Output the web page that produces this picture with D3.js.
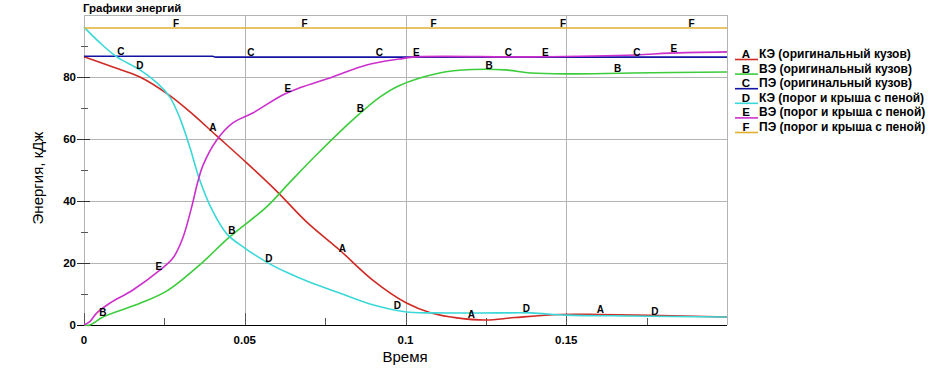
<!DOCTYPE html>
<html>
<head>
<meta charset="utf-8">
<script src="https://cdn.jsdelivr.net/npm/d3@7"></script>
<style>
  body { margin: 0; background: #fff; }
  svg { display: block; font-family: "Liberation Sans", Arial, sans-serif; }
</style>
</head>
<body>
<div id="chart"></div>
<script>
// energy curves, time in s, energy in kJ
var aT = [0, 0.009, 0.0174, 0.0267, 0.0329, 0.0413, 0.0506, 0.0599, 0.0693, 0.0795, 0.0898, 0.1003, 0.108, 0.116, 0.125, 0.134, 0.148, 0.16, 0.176, 0.2];
var aE = [86.5, 83.2, 80.0, 74.0, 68.8, 61.0, 52.3, 43.2, 33.2, 24.2, 14.5, 7.1, 3.9, 2.3, 1.6, 2.4, 3.4, 3.4, 3.1, 2.6];

var bT = [0, 0.0019, 0.0059, 0.0174, 0.0258, 0.036, 0.0453, 0.0568, 0.064, 0.0724, 0.0835, 0.092, 0.098, 0.1106, 0.1208, 0.131, 0.139, 0.15, 0.1705, 0.2];
var bE = [0, 0, 2.6, 7.0, 11.0, 19.4, 28.4, 38.1, 46.0, 55.0, 66.1, 73.5, 77.2, 81.3, 82.4, 82.3, 81.3, 81.0, 81.3, 81.6];

var cT = [0, 0.04, 0.041, 0.2];
var cE = [86.7, 86.7, 86.4, 86.4];

var dT = [0, 0.005, 0.0102, 0.0174, 0.0227, 0.0267, 0.0298, 0.0329, 0.036, 0.04, 0.0444, 0.05, 0.0568, 0.063, 0.0693, 0.0795, 0.0898, 0.1003, 0.108, 0.129, 0.139, 0.15, 0.17, 0.2];
var dE = [96.1, 91.0, 86.5, 82.3, 78.1, 73.5, 66.8, 57.4, 46.8, 36.8, 29.4, 24.8, 20.3, 17.0, 14.2, 10.3, 6.5, 4.2, 3.9, 3.9, 3.9, 3.2, 2.9, 2.6];

var eT = [0, 0.0019, 0.004, 0.0081, 0.0152, 0.0236, 0.0276, 0.0307, 0.0335, 0.0354, 0.037, 0.0413, 0.0463, 0.0525, 0.0618, 0.0671, 0.0773, 0.0879, 0.0981, 0.1034, 0.139, 0.1717, 0.182, 0.2];
var eE = [0, 1.2, 3.9, 7.1, 11.3, 17.7, 21.5, 28.0, 38.1, 46.2, 51.5, 59.7, 65.2, 68.4, 74.2, 76.5, 80.0, 83.9, 85.8, 86.5, 86.5, 87.1, 87.7, 88.1];

var fT = [0, 0.2];
var fE = [95.8, 95.8];

// where the curve letters sit (time)
var aMarks = [0.0401, 0.0804, 0.1205, 0.1606];
var bMarks = [0.0059, 0.046, 0.086, 0.126, 0.166];
var cMarks = [0.0115, 0.0519, 0.0919, 0.132, 0.172];
var dMarks = [0.0174, 0.0575, 0.0975, 0.1376, 0.1776];
var eMarks = [0.0233, 0.0634, 0.1034, 0.1435, 0.1835];
var fMarks = [0.0286, 0.0686, 0.1087, 0.149, 0.189];

var letters = ["A", "B", "C", "D", "E", "F"];
var legendNames = ["КЭ (оригинальный кузов)", "ВЭ (оригинальный кузов)", "ПЭ (оригинальный кузов)",
                   "КЭ (порог и крыша с пеной)", "ВЭ (порог и крыша с пеной)", "ПЭ (порог и крыша с пеной)"];
var colors = ["#d02a24", "#3ccc3c", "#1414a4", "#3ad8d8", "#cc30cc", "#e0b030"];

var xTicks = [0, 0.05, 0.1, 0.15];
var xMinor = [0.025, 0.075, 0.125, 0.175];
var yTicks = [0, 20, 40, 60, 80];
var yMinor = [10, 30, 50, 70, 90];

var series = [
  {t: aT, e: aE, marks: aMarks, smooth: true},
  {t: bT, e: bE, marks: bMarks, smooth: true},
  {t: cT, e: cE, marks: cMarks, smooth: false},
  {t: dT, e: dE, marks: dMarks, smooth: true},
  {t: eT, e: eE, marks: eMarks, smooth: true},
  {t: fT, e: fE, marks: fMarks, smooth: false}
];

var W = 938, H = 372;
var svg = d3.select("#chart").append("svg").attr("width", W).attr("height", H);

var x = d3.scaleLinear().domain([0, 0.2]).range([84, 727]);
var y = d3.scaleLinear().domain([0, 100]).range([325, 15]);

// grid + frame
var grid = svg.append("g");
grid.selectAll(".hg").data(yTicks.slice(1).concat([100]))
  .enter().append("line")
  .attr("x1", x(0)).attr("x2", x(0.2))
  .attr("y1", d => y(d) + 0.5).attr("y2", d => y(d) + 0.5)
  .attr("stroke", "#b4b4b4").attr("stroke-width", 1);
grid.selectAll(".vg").data(xTicks.concat([0.2]))
  .enter().append("line")
  .attr("x1", d => Math.round(x(d)) + 0.5).attr("x2", d => Math.round(x(d)) + 0.5)
  .attr("y1", y(100)).attr("y2", y(0))
  .attr("stroke", "#b4b4b4").attr("stroke-width", 1);

// y axis ticks
var ax = svg.append("g");
ax.selectAll(".yt").data(yTicks).enter().append("line")
  .attr("x1", 77).attr("x2", 90)
  .attr("y1", d => y(d) + 0.5).attr("y2", d => y(d) + 0.5)
  .attr("stroke", "#333");
ax.selectAll(".ym").data(yMinor).enter().append("line")
  .attr("x1", 81).attr("x2", 88)
  .attr("y1", d => y(d) + 0.5).attr("y2", d => y(d) + 0.5)
  .attr("stroke", "#555");
ax.selectAll(".yl").data(yTicks).enter().append("text")
  .attr("x", 76).attr("y", d => y(d) + 4)
  .attr("text-anchor", "end")
  .style("font-size", "11.5px").style("font-weight", "bold")
  .text(d => d);

// x axis
ax.append("line")
  .attr("x1", 77).attr("x2", x(0.2))
  .attr("y1", y(0) + 0.5).attr("y2", y(0) + 0.5)
  .attr("stroke", "#000").attr("stroke-width", 1.2);
ax.selectAll(".xt").data(xTicks).enter().append("line")
  .attr("x1", d => Math.round(x(d)) + 0.5).attr("x2", d => Math.round(x(d)) + 0.5)
  .attr("y1", y(0)).attr("y2", y(0) - 12)
  .attr("stroke", "#555");
ax.selectAll(".xm").data(xMinor).enter().append("line")
  .attr("x1", d => Math.round(x(d)) + 0.5).attr("x2", d => Math.round(x(d)) + 0.5)
  .attr("y1", y(0)).attr("y2", y(0) - 7)
  .attr("stroke", "#555");
ax.selectAll(".xl").data(xTicks).enter().append("text")
  .attr("x", d => x(d)).attr("y", 344)
  .attr("text-anchor", "middle")
  .style("font-size", "11.5px").style("font-weight", "bold")
  .text(d => d === 0 ? "0" : d3.format("")(d));

// titles
svg.append("text").attr("x", 83).attr("y", 12)
  .style("font-size", "11.5px").style("font-weight", "bold")
  .text("Графики энергий");
svg.append("text").attr("x", 405).attr("y", 362)
  .attr("text-anchor", "middle").style("font-size", "15px")
  .text("Время");
svg.append("text")
  .attr("transform", "translate(43,178) rotate(-90)")
  .attr("text-anchor", "middle").style("font-size", "15px")
  .text("Энергия, кДж");

// curves
var smoothLine = d3.line()
  .x(d => x(d[0]))
  .y(d => y(d[1]))
  .curve(d3.curveCatmullRom.alpha(0.5));
var straightLine = d3.line()
  .x(d => x(d[0]))
  .y(d => y(d[1]));

var plot = svg.append("g");
series.forEach(function(s, i) {
  var pts = s.t.map((t, k) => [t, s.e[k]]);
  plot.append("path")
    .datum(pts)
    .attr("d", s.smooth ? smoothLine : straightLine)
    .attr("fill", "none")
    .attr("stroke", colors[i])
    .attr("stroke-width", 1.6);
});

// letters on curves
function valueAt(s, t) {
  var k = d3.bisectLeft(s.t, t);
  if (k <= 0) return s.e[0];
  if (k >= s.t.length) return s.e[s.e.length - 1];
  var t0 = s.t[k - 1], t1 = s.t[k];
  return s.e[k - 1] + (s.e[k] - s.e[k - 1]) * (t - t0) / (t1 - t0);
}
series.forEach(function(s, i) {
  plot.selectAll(".lab" + i).data(s.marks).enter().append("text")
    .attr("x", d => x(d))
    .attr("y", d => y(valueAt(s, d)) - 1)
    .attr("text-anchor", "middle")
    .style("font-size", "10px").style("font-weight", "bold")
    .text(letters[i]);
});

// legend
var lg = svg.append("g");
legendNames.forEach(function(name, i) {
  var by = 58 + i * 14.6;
  lg.append("line")
    .attr("x1", 735).attr("x2", 758)
    .attr("y1", by + 1.5).attr("y2", by + 1.5)
    .attr("stroke", colors[i]).attr("stroke-width", 1.6);
  lg.append("text").attr("x", 746).attr("y", by)
    .attr("text-anchor", "middle")
    .style("font-size", "11.5px").style("font-weight", "bold")
    .text(letters[i]);
  lg.append("text").attr("x", 759).attr("y", by)
    .style("font-size", "12px").style("font-weight", "bold")
    .text(name);
});
</script>
</body>
</html>
